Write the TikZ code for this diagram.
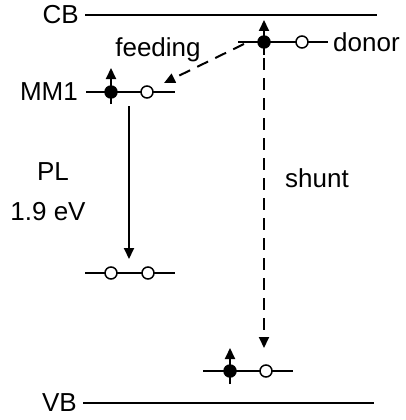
\documentclass[tikz,border=0pt]{standalone}
\usepackage{fontspec}
\setmainfont{Liberation Sans}
\usetikzlibrary{arrows.meta}
\tikzset{
  lvl/.style={line width=2pt},
  edot/.style={circle, fill=black, inner sep=0pt, minimum size=13.5pt},
  hdot/.style={circle, draw, line width=1.5pt, fill=white, inner sep=0pt, minimum size=12pt},
  tipa/.style={line width=2pt, -{Triangle[length=11pt,width=10pt]}},
  dsh/.style={line width=2pt, dash pattern=on 12pt off 8pt, -{Triangle[length=11pt,width=10pt]}},
  lab/.style={font=\fontsize{26}{31}\selectfont, inner sep=0pt}
}
\begin{document}
\begin{tikzpicture}[x=1pt,y=-1pt]
\fill[white] (0,0) rectangle (406,420);
\useasboundingbox (0,0) rectangle (406,420);
% levels
\coordinate (cbL) at (85,15); \coordinate (cbR) at (377,15);
\coordinate (vbL) at (83,403); \coordinate (vbR) at (374,403);
\coordinate (dL) at (238,42); \coordinate (dR) at (328,42);
\coordinate (mL) at (86,92); \coordinate (mR) at (175,92);
\coordinate (lL) at (85,273); \coordinate (lR) at (175,273);
\coordinate (bL) at (203,371); \coordinate (bR) at (293,371);
\draw[lvl] (cbL) -- (cbR);
\draw[lvl] (vbL) -- (vbR);
\draw[lvl] (dL) -- (dR);
\draw[lvl] (mL) -- (mR);
\draw[lvl] (lL) -- (lR);
\draw[lvl] (bL) -- (bR);
% labels
\node[lab, anchor=east] (cb) at (79,15) {CB};
\node[lab, anchor=east] (vb) at (77,403) {VB};
\node[lab, anchor=east] (mm) at (78,92) {MM1};
\node[lab, anchor=west] (donor) at (333,42) {donor};
\node[lab] (feed) at (158,50) {feeding};
\node[lab] (pl) at (53,172) {PL};
\node[lab] (ev) at (48,212) {1.9 eV};
\node[lab] (shunt) at (317,178) {shunt};
% dots
\node[edot] (de) at (264,42) {};
\node[hdot] (dh) at (302,42) {};
\node[edot] (me) at (111,92) {};
\node[hdot] (mh) at (147,92) {};
\node[hdot] (lh1) at (111,273) {};
\node[hdot] (lh2) at (148,273) {};
\node[edot] (be) at (230,371) {};
\node[hdot] (bh) at (266,371) {};
% spins
\coordinate (ms1) at (111,104); \coordinate (ms2) at (111,68);
\coordinate (ds1) at (264,55); \coordinate (ds2) at (264,20);
\coordinate (bs1) at (230,384); \coordinate (bs2) at (230,348);
\draw[tipa] (ms1) -- (ms2);
\draw[tipa] (ds1) -- (ds2);
\draw[tipa] (bs1) -- (bs2);
% transitions
\coordinate (pl1) at (129,106); \coordinate (pl2) at (129,259);
\draw[tipa] (pl1) -- (pl2);
\coordinate (sh1) at (264,58); \coordinate (sh2) at (264,348);
\draw[dsh] (sh1) -- (sh2);
\coordinate (fd1) at (244,44); \coordinate (fd2) at (164,83);
\draw[dsh] (fd1) -- (fd2);
\end{tikzpicture}
\end{document}
